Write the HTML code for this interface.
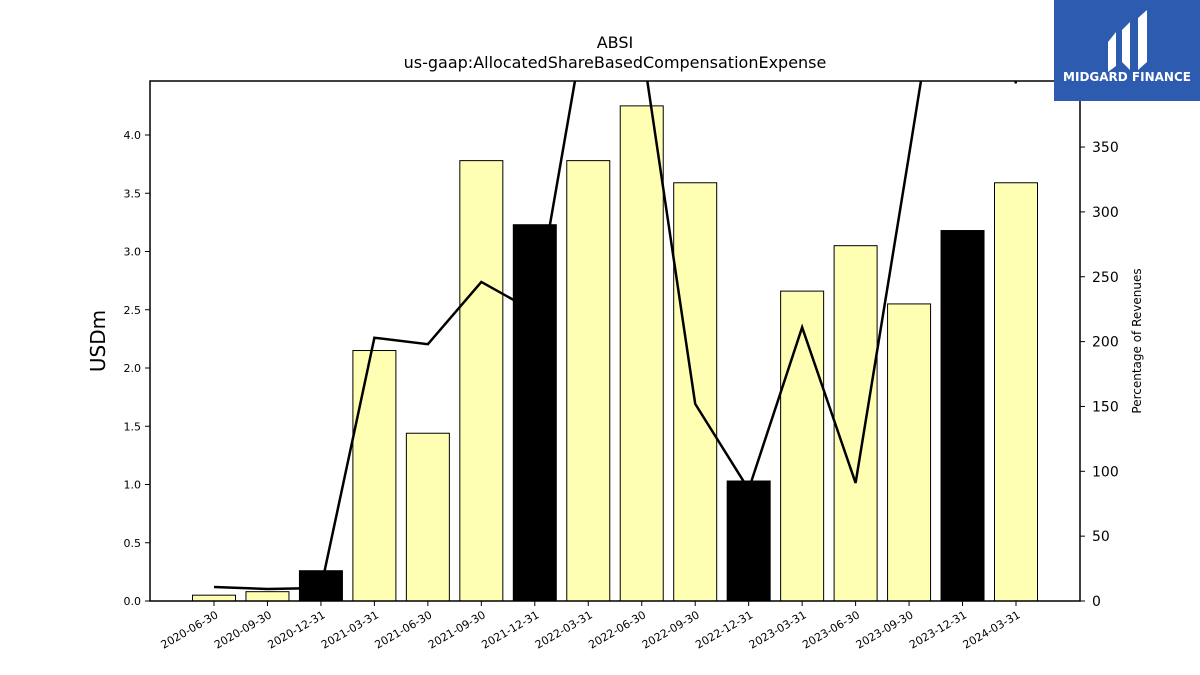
<!DOCTYPE html>
<html><head><meta charset="utf-8"><style>
body{margin:0;background:#fff;font-family:"Liberation Sans","DejaVu Sans",sans-serif}
svg{display:block}
text{font-family:"DejaVu Sans","Liberation Sans",sans-serif}
</style></head><body>
<svg id="c" width="1200" height="675" viewBox="0 0 1200 675">
<text x="615" y="48" font-size="16" text-anchor="middle">ABSI</text>
<text x="615" y="68" font-size="16" text-anchor="middle">us-gaap:AllocatedShareBasedCompensationExpense</text>
<defs><clipPath id="pc"><rect x="150" y="81" width="930" height="520"/></clipPath></defs>
<g id="bars"></g>
<g id="line" clip-path="url(#pc)"></g>
<g id="axes"></g>
<text transform="translate(105,341) rotate(-90)" font-size="20" text-anchor="middle">USDm</text>
<text transform="translate(1141,341) rotate(-90)" font-size="12" text-anchor="middle">Percentage of Revenues</text>
<g>
<rect x="1054" y="0" width="146" height="101" fill="#2d5bb0"/>
<path d="M1108 42 L1116 32 L1116 66 L1108 72 Z M1122 30 L1130 22 L1130 70 L1122 62 Z M1138 18 L1147 10 L1147 62 L1138 70 Z" fill="#fff"/>
<text x="1127" y="81" font-size="12" font-weight="bold" fill="#fff" text-anchor="middle">MIDGARD FINANCE</text>
</g>
</svg>
<script>
const categories=["2020-06-30","2020-09-30","2020-12-31","2021-03-31","2021-06-30","2021-09-30","2021-12-31","2022-03-31","2022-06-30","2022-09-30","2022-12-31","2023-03-31","2023-06-30","2023-09-30","2023-12-31","2024-03-31"];
const values=[0.05,0.08,0.26,2.15,1.44,3.78,3.23,3.78,4.25,3.59,1.03,2.66,3.05,2.55,3.18,3.59];
const annual=[false,false,true,false,false,false,true,false,false,false,true,false,false,false,true,false];
const pct=[10.8,9.3,10,203,198,246,223,460,430,152,86,211,91,344,600,399];
const leftTicks=[0,0.5,1,1.5,2,2.5,3,3.5,4];
const rightTicks=[0,50,100,150,200,250,300,350];
const NS="http://www.w3.org/2000/svg";
const X0=150,X1=1080,Y0=601,Y1=81;
const step=(1016-214)/15;
const x=i=>214+i*step;
const yL=v=>Y0-v*116.5;
const yR=v=>Y0-v*1.297;
function mk(t,a,p){const e=document.createElementNS(NS,t);for(const k in a)e.setAttribute(k,a[k]);p.appendChild(e);return e;}
const bars=document.getElementById('bars'),line=document.getElementById('line'),axes=document.getElementById('axes');
values.forEach((v,i)=>{
 const r=mk('rect',{x:x(i)-21.5,y:yL(v),width:43,height:Y0-yL(v),fill:annual[i]?'#000':'#ffffb3',stroke:'#000','stroke-width':1},bars);
 
 
});
const pl=mk('polyline',{points:pct.map((v,i)=>x(i)+','+yR(v)).join(' '),fill:'none',stroke:'#000','stroke-width':2.5},line);


mk('rect',{x:X0,y:Y1,width:X1-X0,height:Y0-Y1,fill:'none',stroke:'#000','stroke-width':1.5},axes);
leftTicks.forEach(t=>{
 mk('line',{x1:X0-5,x2:X0,y1:yL(t),y2:yL(t),stroke:'#000'},axes);
 const tx=mk('text',{x:X0-9,y:yL(t)+4,'font-size':11,'text-anchor':'end'},axes);tx.textContent=t.toFixed(1);
 
 
});
rightTicks.forEach(t=>{
 mk('line',{x1:X1,x2:X1+5,y1:yR(t),y2:yR(t),stroke:'#000'},axes);
 const tx=mk('text',{x:X1+12,y:yR(t)+5,'font-size':14},axes);tx.textContent=t;
 
 
});
categories.forEach((c,i)=>{
 mk('line',{x1:x(i),x2:x(i),y1:Y0,y2:Y0+5,stroke:'#000'},axes);
 const tx=mk('text',{transform:`translate(${x(i)+5},${Y0+16}) rotate(-30)`,'font-size':11,'text-anchor':'end'},axes);tx.textContent=c;
 
 
});
</script>
</body></html>
